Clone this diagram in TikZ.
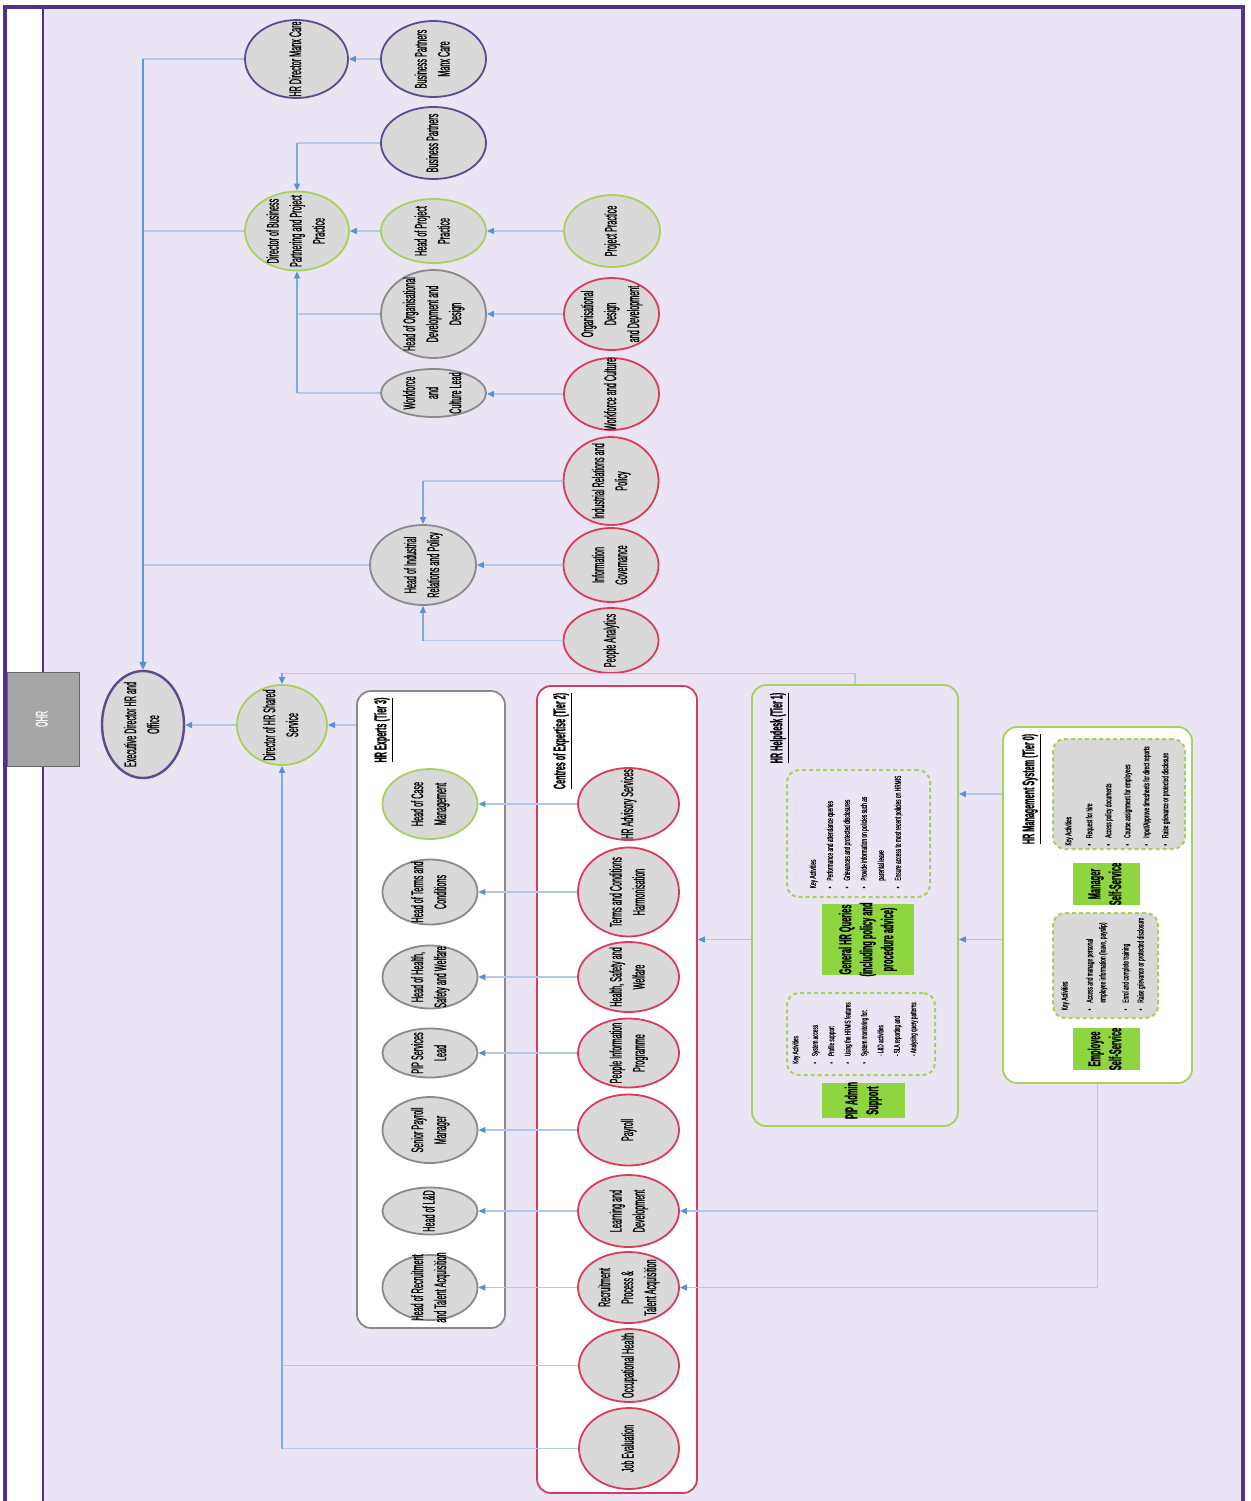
\documentclass[tikz,border=0pt]{standalone}
\usepackage{fontspec}
\newfontfamily\narfont{Liberation Sans}[FakeStretch=0.43,FakeBold=0.7]
\newfontfamily\notefont{Liberation Sans}[FakeStretch=0.55,FakeBold=0.4]
\usetikzlibrary{shapes.geometric,arrows.meta}

\definecolor{lav}{HTML}{EAE4F4}
\definecolor{lanepurple}{HTML}{52338C}
\definecolor{ellfill}{HTML}{D9D9D9}
\definecolor{bpurple}{HTML}{5C4A8F}
\definecolor{bgreen}{HTML}{A8D05E}
\definecolor{bred}{HTML}{DA3B5C}
\definecolor{bgray}{HTML}{8A8A8A}
\definecolor{lnblue}{HTML}{B3C7E6}
\definecolor{tipblue}{HTML}{5B8FD4}
\definecolor{spineblue}{HTML}{5E97D8}
\definecolor{lime}{HTML}{8ED53F}
\definecolor{ohrgray}{HTML}{A6A6A6}

% rotated (bottom-to-top) text of zero size, centred on the node centre
\newcommand\vtext[2][c]{\makebox[0pt]{\smash{\raisebox{-.5\height}{\rotatebox{90}{\begin{tabular}{@{}#1@{}}#2\end{tabular}}}}}}
\newcommand\bul{\textbullet\hspace{3pt}}
\newcommand\ind{\phantom{\textbullet}\hspace{3pt}}

\begin{document}
\begin{tikzpicture}[x=0.5pt,y=-0.5pt,
  ell/.style={ellipse, fill=ellfill, line width=0.9pt, inner sep=0pt,
    font=\narfont\fontsize{8.4}{11.5}\selectfont},
  pu/.style={ell, draw=bpurple},
  gn/.style={ell, draw=bgreen},
  rd/.style={ell, draw=bred},
  gy/.style={ell, draw=bgray},
  dims/.style 2 args={minimum width=#1pt, minimum height=#2pt},
  tier/.style={rectangle, rounded corners=7pt, fill=white, line width=0.9pt, inner sep=0pt},
  notebox/.style={rectangle, rounded corners=6pt, draw=bgreen, line width=1pt,
    dash pattern=on 2pt off 1.5pt, inner sep=0pt},
  lbl/.style={rectangle, fill=lime, inner sep=0pt,
    font=\narfont\bfseries\fontsize{8.6}{10.5}\selectfont},
  ttl/.style={inner sep=0pt, font=\narfont\bfseries\fontsize{8.4}{10}\selectfont},
  note/.style={inner sep=0pt, font=\notefont\fontsize{4.4}{8.5}\selectfont},
  feed/.style={draw=lnblue, line width=0.6pt},
  conn/.style={feed, -{Triangle[length=3.5pt,width=3pt,color=tipblue]}},
  vconn/.style={draw=spineblue!80, line width=0.7pt, -{Triangle[length=3.5pt,width=3pt,color=tipblue]}},
  spine/.style={draw=spineblue, line width=1pt, -{Triangle[length=4pt,width=3.5pt,color=tipblue]}}
]
\useasboundingbox (0,0) rectangle (1250,1501);

% swimlane
\fill[white] (0,0) rectangle (1250,1501);
\fill[lav] (43,7) rectangle (1243,1501);
\draw[lanepurple, line width=0.9pt] (43,7) -- (43,1501);
\draw[lanepurple, line width=1.6pt] (5,1501) -- (5,7) -- (1243,7) -- (1243,1501);
\node[rectangle, draw=gray!80!black, fill=ohrgray, dims={36}{47}, inner sep=0pt, text=white,
  font=\narfont\fontsize{8.4}{10}\selectfont] (ohr) at (43.5,719) {\vtext{OHR}};

% tier containers
\node[tier, draw=bgray, dims={74}{318.5}] (hrexp) at (431,1009.5) {};
\node[tier, draw=bred, dims={80}{403.5}] (coe) at (617,1089.5) {};
\node[tier, draw=bgreen, fill=lav, dims={103}{220.5}] (hd) at (855,905.5) {};
\node[tier, draw=bgreen, dims={94.5}{178}] (hrms) at (1097.5,905) {};

\node[ttl] (hrexpT) at (383,730) {\vtext{\underline{HR Experts (Tier 3)}}};
\node[ttl] (coeT) at (562,741) {\vtext{\underline{Centres of Expertise (Tier 2)}}};
\node[ttl] (hdT) at (779,728) {\vtext{\underline{HR Helpdesk (Tier 1)}}};
\node[ttl] (hrmsT) at (1031,789) {\vtext{\underline{HR Management System (Tier 0)}}};

% helpdesk contents
\node[notebox, dims={71.5}{63.5}] (hd1) at (858.5,833.5) {};
\node[note] (hd1t) at (855,832) {\vtext[l]{Key Activities\\
  \bul Performance and attendance queries\\
  \bul Grievances and protected disclosures\\
  \bul Provide information on policies such as\\
  \ind parental leave\\
  \bul Ensure access to most recent policies on HRMIS}};
\node[lbl, dims={46}{35.5}] (gq) at (868,939.5) {\vtext{General HR Queries\\(including policy and\\procedure advice)}};
\node[notebox, dims={74}{41}] (hd2) at (861,1034) {};
\node[note, font=\notefont\fontsize{4.2}{8.2}\selectfont] (hd2t) at (854,1033) {\vtext[l]{Key Activities\\[1.5pt]
  \bul System access\\
  \bul Profile support\\
  \bul Using the HRMIS features\\
  \bul System monitoring for:\\
  \ind - L\&D activities\\
  \ind - SLA reporting and\\
  \ind - Analysing query patterns}};
\node[lbl, dims={41.5}{17.5}] (pip) at (863.5,1100.5) {\vtext{PIP Admin\\Support}};

% HR management system contents
\node[notebox, fill=ellfill, dims={66}{55}] (mgr) at (1119,794) {};
\node[note, font=\notefont\fontsize{4.4}{9.5}\selectfont] (mgrt) at (1116,796) {\vtext[l]{Key Activities\\[1pt]
  \bul Request for hire\\
  \bul Access policy documents\\
  \bul Course assignment for employees\\
  \bul Input/Approve timesheets for direct reports\\
  \bul Raise grievance or protected disclosure}};
\node[lbl, dims={33.5}{21}] (mss) at (1106.5,884) {\vtext{Manager\\Self-Service}};
\node[notebox, fill=ellfill, dims={52.5}{52.5}] (emp) at (1105.5,965.5) {};
\node[note, font=\notefont\fontsize{4.4}{6.5}\selectfont] (empt) at (1103,964) {\vtext[l]{Key Activities\\[6pt]
  \bul Access and manage personal\\
  \ind employee information (leave, payslip)\\[5pt]
  \bul Enrol and complete training\\[1pt]
  \bul Raise grievance or protected disclosure}};
\node[lbl, dims={33.5}{21}] (ess) at (1106.5,1049) {\vtext{Employee\\Self-Service}};

% executive level
\node[pu, dims={41}{53.5}, line width=1.2pt] (edhr) at (143,724.5) {\vtext{Executive Director HR and\\Office}};
\node[gn, dims={45}{40}] (dhss) at (282,725) {\vtext{Director of HR Shared\\Service}};

% partnering branch
\node[pu, dims={51.5}{39}] (hrdmc) at (296.5,59) {\vtext{HR Director Manx Care}};
\node[pu, dims={52.5}{38}] (bpmc) at (433.5,59) {\vtext{Business Partners\\Manx Care}};
\node[pu, dims={52.5}{36}] (bp) at (433.5,143) {\vtext{Business Partners}};
\node[gn, dims={52}{39.5}] (dbp) at (297,231) {\vtext{Director of Business\\Partnering and Project\\Practice}};
\node[gn, dims={52.5}{32}] (hpp) at (433.5,231) {\vtext{Head of Project\\Practice}};
\node[gn, dims={48}{36}] (pp) at (612,231) {\vtext{Project Practice}};
\node[gy, dims={52.5}{44}] (hod) at (433.5,314) {\vtext{Head of Organisational\\Development and\\Design}};
\node[rd, dims={47.5}{36}] (odd) at (611.5,314) {\vtext{Organisational\\Design\\and Development}};
\node[gy, dims={52.5}{24}] (wcl) at (433.5,393) {\vtext{Workforce\\and\\Culture Lead}};
\node[rd, dims={47.5}{36}] (wc) at (611.5,394) {\vtext{Workforce and Culture}};

% industrial relations branch
\node[gy, dims={53}{40}] (hirp) at (423,565) {\vtext{Head of Industrial\\Relations and Policy}};
\node[rd, dims={47.5}{44}] (irp) at (611,481) {\vtext{Industrial Relations and\\Policy}};
\node[rd, dims={47.5}{37}] (ig) at (611,565) {\vtext{Information\\Governance}};
\node[rd, dims={47.5}{32.5}] (pa) at (611,640.5) {\vtext{People Analytics}};

% HR experts (tier 3)
\node[gn, dims={47.5}{35}] (hcm) at (430,804) {\vtext{Head of Case\\Management}};
\node[gy, dims={47.5}{32.5}] (htc) at (430,892) {\vtext{Head of Terms and\\Conditions}};
\node[gy, dims={47.5}{31.5}] (hhsw) at (430,977) {\vtext{Head of Health,\\Safety and Welfare}};
\node[gy, dims={47.5}{24.5}] (pipl) at (430,1053) {\vtext{PIP Services\\Lead}};
\node[gy, dims={47.5}{33}] (spm) at (430,1130) {\vtext{Senior Payroll\\Manager}};
\node[gy, dims={47.5}{23.5}] (hld) at (430,1211) {\vtext{Head of L\&D}};
\node[gy, dims={47.5}{32.5}] (hrta) at (430,1287.5) {\vtext{Head of Recruitment\\and Talent Acquisition}};

% centres of expertise (tier 2)
\node[rd, dims={50.5}{36}] (hras) at (628.5,804) {\vtext{HR Advisory Services}};
\node[rd, dims={50.5}{44.5}] (tch) at (628.5,892) {\vtext{Terms and Conditions\\Harmonisation}};
\node[rd, dims={50.5}{35}] (hsw) at (628.5,977) {\vtext{Health, Safety and\\Welfare}};
\node[rd, dims={50.5}{34.5}] (pipp) at (628.5,1053) {\vtext{People Information\\Programme}};
\node[rd, dims={50.5}{35.5}] (pay) at (628.5,1130) {\vtext{Payroll}};
\node[rd, dims={50.5}{36}] (ld) at (628.5,1211) {\vtext{Learning and\\Development}};
\node[rd, dims={50.5}{35.5}] (rpta) at (628.5,1287.5) {\vtext{Recruitment\\Process \&\\Talent Acquisition}};
\node[rd, dims={50}{36.5}] (oh) at (629,1365.5) {\vtext{Occupational Health}};
\node[rd, dims={50}{40.5}] (je) at (629,1448.5) {\vtext{Job Evaluation}};

% reporting lines to the executive director
\draw[feed] (hrdmc.west) -- (hrdmc.west -| edhr.north);
\draw[feed] (dbp.west) -- (dbp.west -| edhr.north);
\draw[feed] (hirp.west) -- (hirp.west -| edhr.north);
\draw[spine] (hrdmc.west -| edhr.north) -- (edhr.north);
\draw[conn] (dhss.west) -- (dhss.west -| edhr.east);

% partnering branch
\draw[conn] (bpmc.west) -- (bpmc.west -| hrdmc.east);
\draw[feed] (bp.west) -- (bp.west -| dbp.north);
\draw[vconn] (bp.west -| dbp.north) -- (dbp.north);
\draw[conn] (hpp.west) -- (hpp.west -| dbp.east);
\draw[conn] (pp.west) -- (pp.west -| hpp.east);
\draw[feed] (hod.west) -- (hod.west -| dbp.south);
\draw[feed] (wcl.west) -- (wcl.west -| dbp.south);
\draw[vconn] (wcl.west -| dbp.south) -- (dbp.south);
\draw[conn] (odd.west) -- (odd.west -| hod.east);
\draw[conn] (wc.west) -- (wc.west -| wcl.east);

% industrial relations branch
\draw[feed] (irp.west) -- (irp.west -| hirp.north);
\draw[vconn] (irp.west -| hirp.north) -- (hirp.north);
\draw[conn] (ig.west) -- (ig.west -| hirp.east);
\draw[feed] (pa.west) -- (pa.west -| hirp.south);
\draw[vconn] (pa.west -| hirp.south) -- (hirp.south);

% shared service
\draw[conn] (hrexp.west |- dhss.east) -- (dhss.east);
\path (hd.north) ++(0,-11) coordinate (bus);
\draw[feed] (hd.north) -- (bus) -- (bus -| dhss.north);
\draw[vconn] (bus -| dhss.north) -- (dhss.north);
\foreach \a/\b in {hras/hcm, tch/htc, hsw/hhsw, pipp/pipl, pay/spm, ld/hld, rpta/hrta}
  \draw[conn] (\a.west) -- (\a.west -| \b.east);
\draw[feed] (oh.west) -- (oh.west -| dhss.south);
\draw[feed] (je.west) -- (je.west -| dhss.south);
\draw[vconn] (je.west -| dhss.south) -- (dhss.south);

% tiers 0 and 1
\draw[conn] (hd.west |- gq.west) -- (coe.east |- gq.west);
\draw[conn] (hrms.west |- mgr.west) -- (hd.east |- mgr.west);
\draw[conn] (hrms.west |- gq.west) -- (hd.east |- gq.west);
\draw[feed] (hrms.south) -- (hrms.south |- rpta.east);
\draw[conn] (hrms.south |- ld.east) -- (ld.east);
\draw[conn] (hrms.south |- rpta.east) -- (rpta.east);
\end{tikzpicture}
\end{document}
